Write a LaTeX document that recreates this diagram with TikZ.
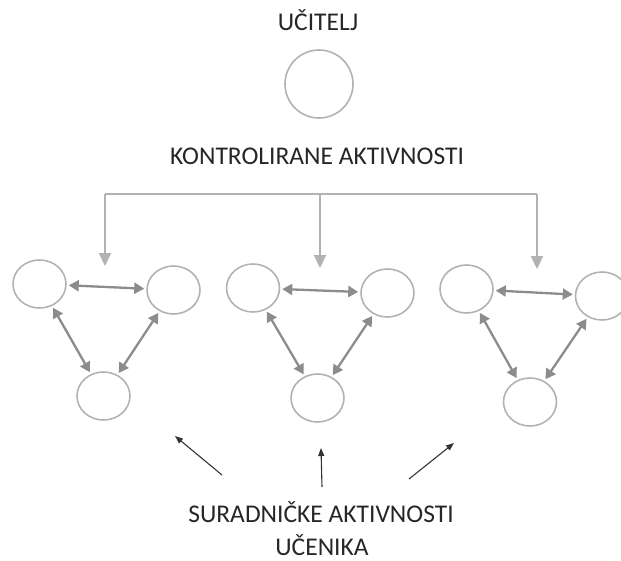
\documentclass[tikz,border=0pt]{standalone}
\usepackage{fontspec}
\setmainfont{Carlito}
\usetikzlibrary{arrows.meta,shapes.geometric}

\begin{document}
\begin{tikzpicture}[x=1pt,y=-1pt,
    caption/.style={font=\fontsize{25.5}{28}\selectfont, text=black!85, anchor=base, inner sep=0pt},
    pupil/.style={draw=gray!60, line width=1.6pt, ellipse, inner sep=0pt,
        minimum width=53pt, minimum height=48pt},
    feed/.style={draw=gray!60, line width=2.2pt, -{Triangle[length=13pt,width=12pt]}},
    talk/.style={draw=gray!90, line width=2.3pt, {Triangle[length=10pt,width=11pt]}-{Triangle[length=10pt,width=11pt]}, shorten <=2pt, shorten >=2pt},
    point/.style={draw=black!80, line width=1.1pt, -{Triangle[length=8pt,width=6pt]}}]
    \useasboundingbox (0,0) rectangle (621,560);
    % teacher
    \node[caption] (teacher) at (318,30) {UČITELJ};
    \node[draw=gray!60, line width=1.6pt, circle, minimum size=68pt] (t) at (319,84) {};
    \node[caption] (ctrl) at (317,164) {KONTROLIRANE AKTIVNOSTI};
    % groups of pupils
    \foreach \g/\ax/\ay/\bx/\by/\cx/\cy in {1/39.5/284/173.5/290/103.5/396,
            2/253/288/387.5/293/317.5/398, 3/466.5/289/602/296/530/402} {
        \node[pupil] (a\g) at (\ax,\ay) {};
        \node[pupil] (b\g) at (\bx,\by) {};
        \node[pupil] (c\g) at (\cx,\cy) {};
        \draw[talk] (a\g) -- (b\g);
        \draw[talk] (a\g) -- (c\g);
        \draw[talk] (b\g) -- (c\g);
    }
    % controlled activities
    \coordinate (split) at (320,194);
    \coordinate (left) at (105,194);
    \coordinate (right) at (537,194);
    \draw[feed] (left) -- (105,266);
    \draw[feed] (split) -- (320,268);
    \draw[feed] (right) -- (537,269);
    \draw[draw=gray!60, line width=2.2pt] (left) -- (right);
    % cooperative activities
    \node[caption] (coop) at (321,522) {SURADNIČKE AKTIVNOSTI};
    \node[caption] (pupils) at (322,555) {UČENIKA};
    \coordinate (p1) at (175,436);
    \coordinate (p2) at (321,448);
    \coordinate (p3) at (454,443);
    \draw[point] (222,475) -- (p1);
    \draw[point] (322,487) -- (p2);
    \draw[point] (409,479) -- (p3);
\end{tikzpicture}
\end{document}
